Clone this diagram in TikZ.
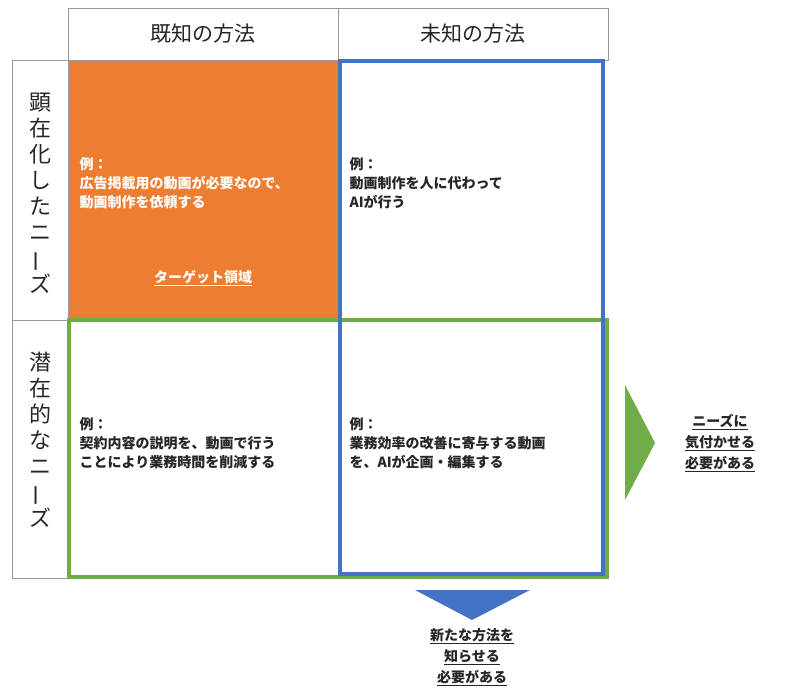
\documentclass[tikz,border=0pt]{standalone}
\usepackage{fontspec}
\usepackage{graphicx}
\setmainfont{Noto Sans CJK JP}
\definecolor{myorange}{RGB}{237,125,49}
\definecolor{mygreen}{RGB}{112,173,71}
\definecolor{myblue}{RGB}{68,114,196}
\newcommand{\vbar}{\rotatebox[origin=c]{90}{ー}}
\begin{document}
\begin{tikzpicture}[x=1pt,y=-1pt,
  grid/.style={draw=gray!80,line width=1pt},
  hdr/.style={font=\fontsize{21}{24}\selectfont,text=black!85},
  vert/.style={font=\fontsize{22}{26}\selectfont,align=center,text=black!85},
  body/.style={font=\bfseries\fontsize{14}{19}\selectfont,align=left,anchor=north west,text=black!85},
  ul/.style={font=\bfseries\fontsize{14}{21}\selectfont,align=center,text=black!85}]
\useasboundingbox (0,0) rectangle (800,699);
\fill[white] (0,0) rectangle (800,699);
\fill[myorange] (68,60) rectangle (338,320);
\draw[grid] (68,8) rectangle (608,60);
\draw[grid] (338,8) -- (338,60);
\draw[grid] (12,60) rectangle (68,578);
\draw[grid] (12,320) -- (68,320);
\draw[grid] (338,60) -- (338,320);
\node[hdr] (h1) at (203,34) {既知の方法};
\node[hdr] (h2) at (473,34) {未知の方法};
\node[vert] (v1) at (40,193) {顕\\在\\化\\し\\た\\ニ\\\vbar\\ズ};
\node[vert] (v2) at (40,440) {潜\\在\\的\\な\\ニ\\\vbar\\ズ};
\draw[line width=3.5pt,draw=mygreen] (69,320) rectangle (607,577);
\draw[line width=3.5pt,draw=myblue] (340,61) rectangle (603,574);
\node[body,text=white] (t1) at (76,154) {例：\\広告掲載用の動画が必要なので、\\動画制作を依頼する};
\node[font=\bfseries\fontsize{14}{19}\selectfont,text=white] (tg) at (203,278) {\underline{ターゲット領域}};
\node[body] (t2) at (346,154) {例：\\動画制作を人に代わって\\AIが行う};
\node[body] (t3) at (76,414) {例：\\契約内容の説明を、動画で行う\\ことにより業務時間を削減する};
\node[body] (t4) at (346,414) {例：\\業務効率の改善に寄与する動画\\を、AIが企画・編集する};
\fill[mygreen] (625,385) -- (655,443) -- (625,500) -- cycle;
\fill[myblue] (415,590) -- (530,590) -- (472,620) -- cycle;
\node[ul] (r) at (720,443) {\underline{ニーズに}\\\underline{気付かせる}\\\underline{必要がある}};
\node[ul] (b) at (472,657) {\underline{新たな方法を}\\\underline{知らせる}\\\underline{必要がある}};
\end{tikzpicture}
\end{document}
